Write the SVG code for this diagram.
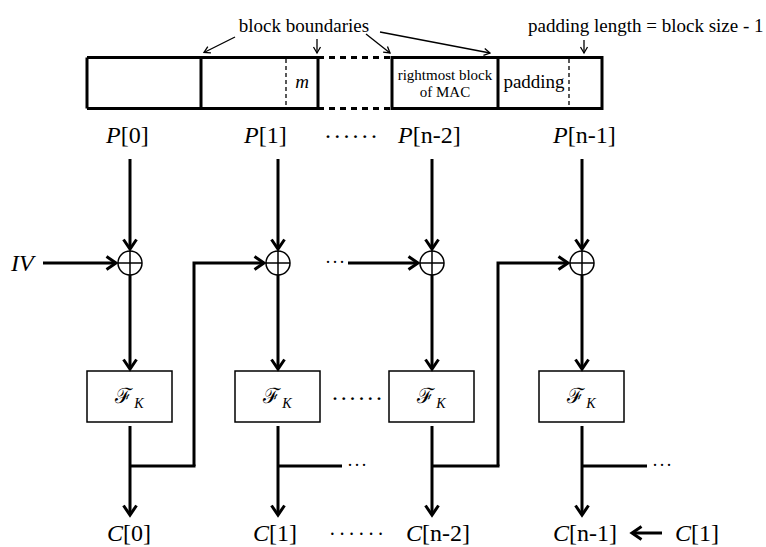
<svg xmlns="http://www.w3.org/2000/svg" width="766" height="547" viewBox="0 0 766 547">
  <style>
    .t { font-family: "Liberation Serif", "Times New Roman", serif; fill: #000; }
    .it { font-style: italic; }
    .fk { font-family: "DejaVu Serif", serif; fill: #000; }
    .thick { stroke: #000; stroke-width: 3; fill: none; }
    .thin { stroke: #000; stroke-width: 1.3; fill: none; }
    .box { stroke: #000; stroke-width: 1.5; fill: #fff; }
    .xor { stroke: #000; stroke-width: 1.5; fill: #fff; }
  </style>
  <defs>
    <marker id="arr" markerUnits="userSpaceOnUse" markerWidth="16" markerHeight="16" viewBox="-12 -8 14 16" refX="0" refY="0" orient="auto">
      <path d="M-9.5,-6.5 L0,0 L-9.5,6.5" fill="none" stroke="#000" stroke-width="3"/>
    </marker>
    <marker id="sarr" markerUnits="userSpaceOnUse" markerWidth="10" markerHeight="10" viewBox="-8 -5 9 10" refX="0" refY="0" orient="auto">
      <path d="M-6,-3.5 L0,0 L-6,3.5" fill="none" stroke="#000" stroke-width="1.3"/>
    </marker>
  </defs>
  <rect width="766" height="547" fill="#fff"/>

  <!-- message layout bar -->
  <g id="message-bar">
    <path class="thick" d="M87,57.5 H318 M87,108.5 H318 M87,57.5 V108.5 M201,57.5 V108.5 M318,57.5 V108.5"/>
    <path class="thick" d="M318,57.5 H392 M318,108.5 H392" stroke-dasharray="6,5"/>
    <path class="thick" d="M392,57.5 H602 V108.5 H392 Z M498,57.5 V108.5"/>
    <path class="thin" d="M286,59 V107 M569,59 V107" stroke-dasharray="4,3"/>
    <text class="t it" x="302" y="88" font-size="19" text-anchor="middle">m</text>
    <text class="t" x="445" y="80" font-size="15" text-anchor="middle">rightmost block</text>
    <text class="t" x="445" y="97" font-size="15" text-anchor="middle">of MAC</text>
    <text class="t" x="534" y="88" font-size="19" text-anchor="middle">padding</text>
  </g>

  <g id="annotations">
    <text class="t" x="304" y="32" font-size="19" text-anchor="middle">block boundaries</text>
    <text class="t" x="528" y="32" font-size="19">padding length = block size - 1</text>
    <path class="thin" d="M235,37 L204,52.5" marker-end="url(#sarr)"/>
    <path class="thin" d="M317,39 V53" marker-end="url(#sarr)"/>
    <path class="thin" d="M366,34 L390,53" marker-end="url(#sarr)"/>
    <path class="thin" d="M380,32 L490,53" marker-end="url(#sarr)"/>
    <path class="thin" d="M584,40 V53" marker-end="url(#sarr)"/>
  </g>

  <!-- plaintext labels -->
  <g id="plaintext">
    <text class="t" x="106" y="143" font-size="24"><tspan class="it">P</tspan>[0]</text>
    <text class="t" x="244" y="143" font-size="24"><tspan class="it">P</tspan>[1]</text>
    <text class="t" x="324" y="144" font-size="24" letter-spacing="1.2">······</text>
    <text class="t" x="398" y="143" font-size="24"><tspan class="it">P</tspan>[n-2]</text>
    <text class="t" x="553" y="143" font-size="24"><tspan class="it">P</tspan>[n-1]</text>
    <text class="t it" x="11" y="271" font-size="24">IV</text>
  </g>

  <!-- XOR nodes -->
  <g id="xor0"><circle class="xor" cx="130" cy="263" r="12"/><path class="xor" d="M118,263 H142 M130,251 V275"/></g>
  <g id="xor1"><circle class="xor" cx="278" cy="263" r="12"/><path class="xor" d="M266,263 H290 M278,251 V275"/></g>
  <g id="xor2"><circle class="xor" cx="432" cy="263" r="12"/><path class="xor" d="M420,263 H444 M432,251 V275"/></g>
  <g id="xor3"><circle class="xor" cx="582" cy="263" r="12"/><path class="xor" d="M570,263 H594 M582,251 V275"/></g>

  <!-- block cipher nodes -->
  <g id="fk0"><rect class="box" x="87" y="371" width="85" height="51"/>
    <text class="fk" x="123" y="403" font-size="21" text-anchor="middle">ℱ</text>
    <text class="t it" x="139" y="408" font-size="14" text-anchor="middle">K</text></g>
  <g id="fk1"><rect class="box" x="235" y="371" width="85" height="51"/>
    <text class="fk" x="271" y="403" font-size="21" text-anchor="middle">ℱ</text>
    <text class="t it" x="287" y="408" font-size="14" text-anchor="middle">K</text></g>
  <g id="fk2"><rect class="box" x="389" y="371" width="85" height="51"/>
    <text class="fk" x="425" y="403" font-size="21" text-anchor="middle">ℱ</text>
    <text class="t it" x="441" y="408" font-size="14" text-anchor="middle">K</text></g>
  <g id="fk3"><rect class="box" x="539" y="371" width="85" height="51"/>
    <text class="fk" x="575" y="403" font-size="21" text-anchor="middle">ℱ</text>
    <text class="t it" x="591" y="408" font-size="14" text-anchor="middle">K</text></g>
  <text class="t" x="331" y="406" font-size="24" letter-spacing="0.8">······</text>

  <!-- ciphertext labels -->
  <g id="ciphertext">
    <text class="t" x="107" y="541" font-size="24"><tspan class="it">C</tspan>[0]</text>
    <text class="t" x="253" y="541" font-size="24"><tspan class="it">C</tspan>[1]</text>
    <text class="t" x="329" y="541" font-size="20" letter-spacing="3">······</text>
    <text class="t" x="406" y="541" font-size="24"><tspan class="it">C</tspan>[n-2]</text>
    <text class="t" x="553" y="541" font-size="24"><tspan class="it">C</tspan>[n-1]</text>
    <text class="t" x="675" y="541" font-size="24"><tspan class="it">C</tspan>[1]</text>
  </g>

  <!-- connectors -->
  <g id="connectors">
    <path class="thick" d="M130,159 V249" marker-end="url(#arr)"/>
    <path class="thick" d="M278,159 V249" marker-end="url(#arr)"/>
    <path class="thick" d="M432,159 V249" marker-end="url(#arr)"/>
    <path class="thick" d="M582,159 V249" marker-end="url(#arr)"/>

    <path class="thick" d="M43,263 H116" marker-end="url(#arr)"/>
    <path class="thick" d="M194,466 V263 H264" marker-end="url(#arr)"/>
    <path class="thick" d="M348,263 H418" marker-end="url(#arr)"/>
    <path class="thick" d="M498,466 V263 H568" marker-end="url(#arr)"/>

    <path class="thick" d="M130,275 V369" marker-end="url(#arr)"/>
    <path class="thick" d="M278,275 V369" marker-end="url(#arr)"/>
    <path class="thick" d="M432,275 V369" marker-end="url(#arr)"/>
    <path class="thick" d="M582,275 V369" marker-end="url(#arr)"/>

    <path class="thick" d="M130,426 V515" marker-end="url(#arr)"/>
    <path class="thick" d="M278,426 V515" marker-end="url(#arr)"/>
    <path class="thick" d="M432,426 V515" marker-end="url(#arr)"/>
    <path class="thick" d="M582,426 V515" marker-end="url(#arr)"/>

    <path class="thick" d="M130,466 H195.5"/>
    <path class="thick" d="M432,466 H499.5"/>
    <path class="thick" d="M278,466 H342"/>
    <path class="thick" d="M582,466 H647"/>

    <path class="thick" d="M662,533 H632" marker-end="url(#arr)"/>
  </g>
  <text class="t" x="325" y="268" font-size="18" letter-spacing="1">···</text>
  <text class="t" x="347" y="471" font-size="18" letter-spacing="1">···</text>
  <text class="t" x="652" y="471" font-size="18" letter-spacing="1">···</text>
</svg>
